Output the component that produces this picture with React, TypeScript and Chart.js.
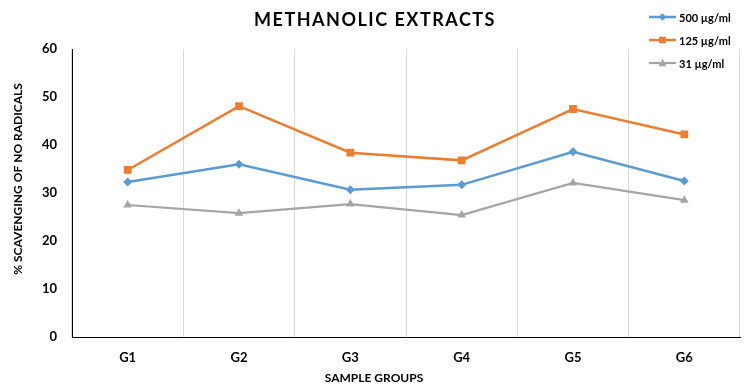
import React, { useEffect, useRef } from "react";
import { Chart, registerables } from "chart.js";

Chart.register(...registerables);

const TITLE = "METHANOLIC EXTRACTS";
const X_TITLE = "SAMPLE GROUPS";
const Y_TITLE = "% SCAVENGING OF NO RADICALS";
const categories = ["G1", "G2", "G3", "G4", "G5", "G6"];
const seriesNames = ["500 µg/ml", "125 µg/ml", "31 µg/ml"];
const values500 = [32.3, 36.0, 30.7, 31.7, 38.6, 32.5];
const values125 = [34.8, 48.1, 38.4, 36.8, 47.5, 42.2];
const values31 = [27.5, 25.8, 27.7, 25.4, 32.1, 28.5];
const yTicks = [0, 10, 20, 30, 40, 50, 60];

const COLORS = ["#5B9BD5", "#ED7D31", "#A5A5A5"];
const STYLES = ["rectRot", "rect", "triangle"];
const RADII = [4.5, 5.5, 5];
const WIDTHS = [2.5, 2.5, 2.2];
const FONT = "Lato, 'Open Sans', sans-serif";

function drawMarker(ctx: CanvasRenderingContext2D, style: string, x: number, y: number, r: number) {
  ctx.beginPath();
  if (style === "rectRot") {
    ctx.moveTo(x, y - r);
    ctx.lineTo(x + r, y);
    ctx.lineTo(x, y + r);
    ctx.lineTo(x - r, y);
  } else if (style === "rect") {
    const s = r * Math.SQRT1_2;
    ctx.rect(x - s, y - s, 2 * s, 2 * s);
  } else {
    const h = r * 1.5;
    ctx.moveTo(x, y - r);
    ctx.lineTo(x + r * 0.95, y + h / 2);
    ctx.lineTo(x - r * 0.95, y + h / 2);
  }
  ctx.closePath();
  ctx.fill();
}

const overlayPlugin = {
  id: "overlay",
  afterDraw(chart: any) {
    const ctx: CanvasRenderingContext2D = chart.ctx;
    ctx.save();
    ctx.fillStyle = "#000";
    // chart title
    ctx.font = `bold 18px ${FONT}`;
    (ctx as any).letterSpacing = "1.5px";
    ctx.textAlign = "center";
    ctx.textBaseline = "middle";
    ctx.fillText(TITLE, 375, 20);
    (ctx as any).letterSpacing = "0px";
    // axis titles
    ctx.font = `bold 12px ${FONT}`;
    ctx.fillText(X_TITLE, 374, 378);
    ctx.save();
    ctx.translate(18, 179);
    ctx.rotate(-Math.PI / 2);
    ctx.fillText(Y_TITLE, 0, 0);
    ctx.restore();
    // legend
    ctx.font = `bold 11px ${FONT}`;
    ctx.textAlign = "left";
    chart.data.datasets.forEach((ds: any, i: number) => {
      const y = 17 + i * 23;
      ctx.strokeStyle = ds.borderColor;
      ctx.lineWidth = ds.borderWidth;
      ctx.beginPath();
      ctx.moveTo(649, y);
      ctx.lineTo(676, y);
      ctx.stroke();
      ctx.fillStyle = ds.borderColor;
      drawMarker(ctx, STYLES[i], 662.5, y, RADII[i] * 0.85);
      ctx.fillStyle = "#000";
      ctx.fillText(ds.label, 679, y + 1);
    });
    ctx.restore();
  },
};

export default function App() {
  const ref = useRef<HTMLCanvasElement>(null);
  useEffect(() => {
    if (!ref.current) return;
    const series = [values500, values125, values31];
    const chart = new Chart(ref.current, {
      type: "line",
      data: {
        labels: categories,
        datasets: series.map((vals, i) => ({
          label: seriesNames[i],
          data: vals,
          borderColor: COLORS[i],
          backgroundColor: COLORS[i],
          borderWidth: WIDTHS[i],
          pointStyle: STYLES[i] as any,
          pointRadius: RADII[i],
          pointBorderWidth: 0,
          pointBackgroundColor: COLORS[i],
          tension: 0,
          fill: false,
        })),
      },
      options: {
        responsive: false,
        animation: false,
        layout: { padding: { top: 49, left: 0, right: 8, bottom: 0 } },
        plugins: {
          legend: { display: false },
          title: { display: false },
          tooltip: { enabled: false },
        },
        scales: {
          x: {
            offset: true,
            grid: { offset: true, color: "#d9d9d9", drawTicks: false, lineWidth: 1 },
            border: { color: "#000", width: 1 },
            ticks: { color: "#000", padding: 13, font: { family: FONT, size: 13, weight: "bold" } },
            afterFit: (s: any) => {
              s.height = 53;
            },
          },
          y: {
            min: 0,
            max: 60,
            afterBuildTicks: (s: any) => {
              s.ticks = yTicks.map((v) => ({ value: v }));
            },
            grid: { display: true, drawOnChartArea: false, drawTicks: false },
            border: { color: "#000", width: 1 },
            ticks: { color: "#000", padding: 15, font: { family: FONT, size: 13, weight: "bold" } },
            afterFit: (s: any) => {
              s.width = 72;
            },
          },
        },
      },
      plugins: [overlayPlugin],
    });
    return () => chart.destroy();
  }, []);
  return (
    <div style={{ position: "fixed", left: 0, top: 0, width: 748, height: 390, background: "#fff" }}>
      <canvas ref={ref} width={748} height={390} />
    </div>
  );
}
